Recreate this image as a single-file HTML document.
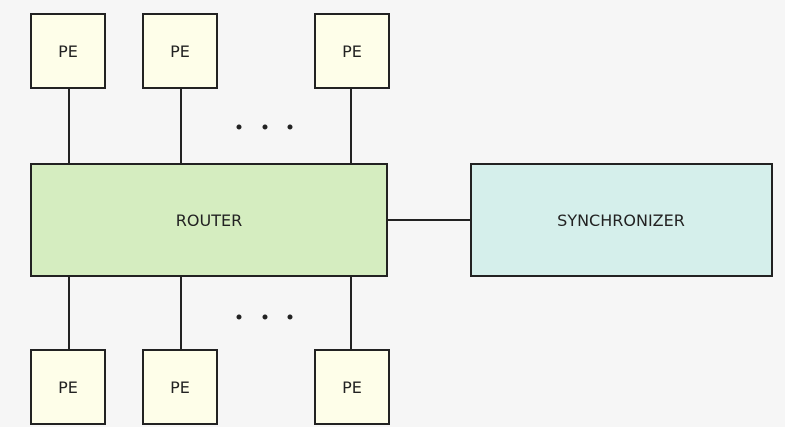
<!DOCTYPE html>
<html><head><style>
html,body{margin:0;padding:0;background:#f6f6f6;}
svg{display:block}
text{font-family:"DejaVu Sans","Liberation Sans",sans-serif;font-size:16px;fill:#222;}
</style></head><body>
<svg width="785" height="427" viewBox="0 0 785 427">
<rect width="785" height="427" fill="#f6f6f6"/>
<g stroke="#222" stroke-width="2" fill="none">
<line x1="69" y1="88" x2="69" y2="164"/>
<line x1="181" y1="88" x2="181" y2="164"/>
<line x1="351" y1="88" x2="351" y2="164"/>
<line x1="69" y1="276" x2="69" y2="350"/>
<line x1="181" y1="276" x2="181" y2="350"/>
<line x1="351" y1="276" x2="351" y2="350"/>
<line x1="387" y1="220" x2="471" y2="220"/>
</g>
<g stroke="#222" stroke-width="2">
<rect x="31" y="14" width="74" height="74" fill="#fefee9"/>
<rect x="143" y="14" width="74" height="74" fill="#fefee9"/>
<rect x="315" y="14" width="74" height="74" fill="#fefee9"/>
<rect x="31" y="350" width="74" height="74" fill="#fefee9"/>
<rect x="143" y="350" width="74" height="74" fill="#fefee9"/>
<rect x="315" y="350" width="74" height="74" fill="#fefee9"/>
<rect x="31" y="164" width="356" height="112" fill="#d5edc0"/>
<rect x="471" y="164" width="301" height="112" fill="#d5efeb"/>
</g>
<g fill="#222">
<circle cx="239" cy="127" r="2.5"/><circle cx="265" cy="127" r="2.5"/><circle cx="290" cy="127" r="2.5"/>
<circle cx="239" cy="317" r="2.5"/><circle cx="265" cy="317" r="2.5"/><circle cx="290" cy="317" r="2.5"/>
</g>
<g text-anchor="middle">
<text x="68" y="57">PE</text>
<text x="180" y="57">PE</text>
<text x="352" y="57">PE</text>
<text x="68" y="393">PE</text>
<text x="180" y="393">PE</text>
<text x="352" y="393">PE</text>
<text x="209" y="226">ROUTER</text>
<text x="621" y="226">SYNCHRONIZER</text>
</g>
</svg>
</body></html>
